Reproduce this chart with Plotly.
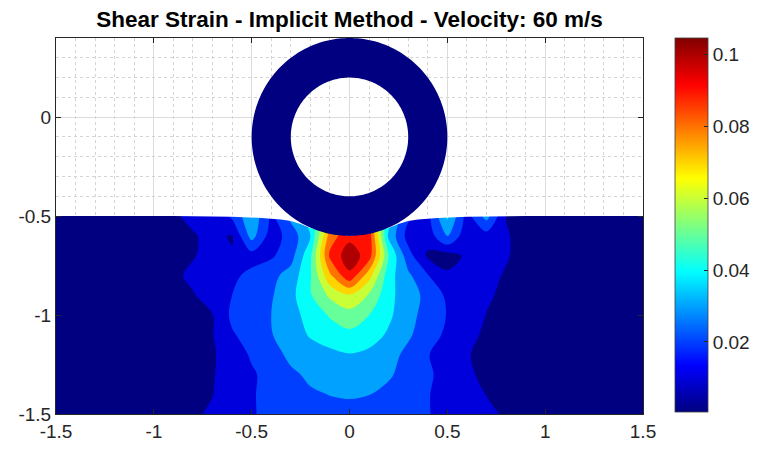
import numpy as np
import plotly.graph_objects as go

# ---------------- data ----------------
x_coords = [-1.5, -1.2, -1.0, -0.9, -0.8, -0.7, -0.6, -0.5, -0.4, -0.3, -0.2, -0.1, 0.0,
            0.1, 0.2, 0.3, 0.4, 0.5, 0.6, 0.7, 0.8, 0.9, 1.0, 1.2, 1.5]
y_coords = [-1.5, -1.4, -1.3, -1.2, -1.1, -1.0, -0.9, -0.8, -0.7, -0.6, -0.5]

# shear strain, one row per y (bottom to top), one value per x
shear_strain = [
    [0.004, 0.005, 0.006, 0.007, 0.009, 0.011, 0.015, 0.019, 0.023, 0.026, 0.027, 0.0275, 0.0275,
     0.027, 0.026, 0.024, 0.0205, 0.017, 0.014, 0.0115, 0.0092, 0.006, 0.005, 0.004, 0.004],
    [0.004, 0.005, 0.006, 0.007, 0.0085, 0.0098, 0.014, 0.019, 0.0235, 0.027, 0.029, 0.0302, 0.0308,
     0.0302, 0.028, 0.025, 0.0205, 0.0165, 0.013, 0.0098, 0.0075, 0.006, 0.005, 0.004, 0.004],
    [0.004, 0.005, 0.006, 0.007, 0.008, 0.0095, 0.0135, 0.0185, 0.024, 0.0285, 0.0315, 0.033, 0.0345,
     0.033, 0.031, 0.027, 0.0215, 0.0165, 0.0115, 0.008, 0.0065, 0.0055, 0.005, 0.004, 0.004],
    [0.004, 0.005, 0.006, 0.007, 0.008, 0.0092, 0.0135, 0.0215, 0.0265, 0.032, 0.0355, 0.0375, 0.0395,
     0.0375, 0.0335, 0.0275, 0.0205, 0.0155, 0.0105, 0.008, 0.0065, 0.0055, 0.005, 0.004, 0.004],
    [0.004, 0.005, 0.006, 0.007, 0.008, 0.0095, 0.019, 0.024, 0.0295, 0.035, 0.041, 0.045, 0.0475,
     0.045, 0.0385, 0.0315, 0.0245, 0.018, 0.0125, 0.0085, 0.007, 0.006, 0.005, 0.004, 0.004],
    [0.004, 0.005, 0.006, 0.007, 0.008, 0.0098, 0.022, 0.026, 0.030, 0.036, 0.044, 0.051, 0.056,
     0.050, 0.042, 0.033, 0.0265, 0.0195, 0.014, 0.0098, 0.0075, 0.006, 0.005, 0.004, 0.004],
    [0.004, 0.005, 0.0065, 0.0075, 0.0095, 0.013, 0.020, 0.0255, 0.029, 0.037, 0.049, 0.062, 0.069,
     0.059, 0.043, 0.034, 0.0275, 0.018, 0.0145, 0.011, 0.0085, 0.0065, 0.0055, 0.0045, 0.004],
    [0.004, 0.0055, 0.007, 0.0085, 0.0115, 0.0145, 0.018, 0.0225, 0.027, 0.034, 0.049, 0.078, 0.098,
     0.074, 0.044, 0.032, 0.0205, 0.0115, 0.011, 0.0115, 0.0095, 0.0075, 0.006, 0.0045, 0.004],
    [0.004, 0.0055, 0.007, 0.0085, 0.0095, 0.0125, 0.0105, 0.016, 0.0185, 0.026, 0.048, 0.092, 0.106,
     0.095, 0.050, 0.024, 0.0085, 0.006, 0.0115, 0.0125, 0.0105, 0.008, 0.0065, 0.005, 0.004],
    [0.004, 0.0055, 0.007, 0.0085, 0.0095, 0.0115, 0.0095, 0.034, 0.015, 0.024, 0.040, 0.085, 0.097,
     0.096, 0.038, 0.016, 0.014, 0.031, 0.013, 0.016, 0.0105, 0.008, 0.0065, 0.005, 0.004],
    [0.004, 0.0055, 0.0075, 0.0092, 0.0115, 0.014, 0.022, 0.038, 0.018, 0.033, 0.046, 0.070, 0.090,
     0.085, 0.045, 0.022, 0.017, 0.042, 0.016, 0.034, 0.0098, 0.008, 0.0065, 0.005, 0.004],
]

# deformed ground surface (white gap between y=-0.5 and the surface)
surface_x = [-0.9, -0.6, -0.45, -0.35, -0.3, -0.25, -0.2, 0.0, 0.2, 0.25, 0.3, 0.35, 0.45, 0.6, 0.9]
surface_y = [-0.5, -0.503, -0.509, -0.517, -0.525, -0.54, -0.56, -0.6, -0.56, -0.54, -0.525, -0.517, -0.509, -0.503, -0.5]
surface_top = -0.497

# cylinder (ring)
ring_center_x = 0.0
ring_center_y = -0.1
ring_outer_radius = 0.5
ring_inner_radius = 0.3

x_tick_values = [-1.5, -1, -0.5, 0, 0.5, 1, 1.5]
x_tick_labels = ["-1.5", "-1", "-0.5", "0", "0.5", "1", "1.5"]
y_tick_values = [-1.5, -1, -0.5, 0]
y_tick_labels = ["-1.5", "-1", "-0.5", "0"]
cbar_tick_values = [0.02, 0.04, 0.06, 0.08, 0.1]
cbar_tick_labels = ["0.02", "0.04", "0.06", "0.08", "0.1"]

strain_min = 0.0005
strain_max = 0.1047
level_start, level_end, level_step = 0.01, 0.1, 0.01

title_text = "Shear Strain - Implicit Method - Velocity: 60 m/s"

# ---------------- styling helpers ----------------
def jet(t):
    t = min(max(t, 0.0), 1.0)
    r = min(max(1.5 - abs(4 * t - 3), 0), 1)
    g = min(max(1.5 - abs(4 * t - 2), 0), 1)
    b = min(max(1.5 - abs(4 * t - 1), 0), 1)
    return f"rgb({round(r*255)},{round(g*255)},{round(b*255)})"

samples = np.linspace(0, 1, 101)
jet_scale = [[float(s), jet(s)] for s in samples]

# band colours like MATLAB contourf: each band gets jet(lower level)
span = level_end - level_start + level_step
band_scale = []
for s in samples:
    lvl = s * span + level_start - level_step
    band_scale.append([float(s), jet((lvl - strain_min) / (strain_max - strain_min))])

FONT = "Liberation Sans, Arial, Helvetica, sans-serif"
AX = "#262626"

fig = go.Figure()

fig.add_trace(go.Contour(
    x=x_coords, y=y_coords, z=shear_strain,
    zmin=strain_min, zmax=strain_max,
    colorscale=band_scale,
    contours=dict(start=level_start, end=level_end, size=level_step,
                  coloring="fill", showlines=False),
    line=dict(width=0),
    showscale=False, hoverinfo="skip",
))

# white gap above the deformed surface
fig.add_trace(go.Scatter(
    x=surface_x + [surface_x[-1], surface_x[0]],
    y=surface_y + [surface_top, surface_top],
    mode="lines", fill="toself", fillcolor="white",
    line=dict(width=0, color="white"), hoverinfo="skip", showlegend=False,
))

# continuous colorbar
fig.add_trace(go.Scatter(
    x=[None, None], y=[None, None], mode="markers",
    marker=dict(color=[strain_min, strain_max], cmin=strain_min, cmax=strain_max,
                colorscale=jet_scale, showscale=True,
                colorbar=dict(
                    thickness=33, thicknessmode="pixels",
                    len=0.995, lenmode="fraction",
                    x=1.0545, xanchor="left", xpad=0,
                    y=0.503, yanchor="middle", ypad=0,
                    tickmode="array", tickvals=cbar_tick_values, ticktext=cbar_tick_labels,
                    ticks="inside", ticklen=4, tickcolor=AX,
                    tickfont=dict(family=FONT, size=19, color=AX),
                    outlinewidth=0.8, outlinecolor="#404040",
                )),
    hoverinfo="skip", showlegend=False,
))

# ring path
th = np.linspace(0, 2 * np.pi, 241)
def circle_path(r):
    xs = ring_center_x + r * np.cos(th)
    ys = ring_center_y + r * np.sin(th)
    return "M " + " L ".join(f"{a:.5f},{b:.5f}" for a, b in zip(xs, ys)) + " Z"

ring_path = circle_path(ring_outer_radius) + " " + circle_path(ring_inner_radius)
fig.add_shape(type="path", path=ring_path, xref="x", yref="y",
              fillcolor=jet(0), line=dict(width=0), layer="above", fillrule="evenodd")

axis_common = dict(
    ticks="inside", ticklen=5, tickcolor=AX, automargin=False,
    showline=True, linecolor=AX, linewidth=1, mirror="ticks",
    showgrid=True, gridcolor="#dcdcdc", gridwidth=1, zeroline=False,
    tickfont=dict(family=FONT, size=19, color=AX),
    minor=dict(tickmode="linear", tick0=0, dtick=0.1, showgrid=True,
               gridcolor="#d4d4d4", griddash="dot", gridwidth=1, ticks=""),
)

fig.update_xaxes(range=[-1.5, 1.5], tickmode="array", tickvals=x_tick_values,
                 ticktext=x_tick_labels, **axis_common)
fig.update_yaxes(range=[-1.5, 0.4], tickmode="array", tickvals=y_tick_values,
                 ticktext=y_tick_labels, **axis_common)

fig.update_layout(
    width=759, height=452,
    margin=dict(l=56, r=116, t=38, b=38, autoexpand=False),
    paper_bgcolor="white", plot_bgcolor="white",
    showlegend=False,
    title=dict(text=f"<b>{title_text}</b>", x=0.5, xref="paper", xanchor="center",
               y=1 - 19 / 452, yref="container", yanchor="middle",
               font=dict(family=FONT, size=22.5, color="#000000")),
)

fig.write_html("out.html", config={"displayModeBar": False},
               post_script="document.body.style.margin='0px';")
